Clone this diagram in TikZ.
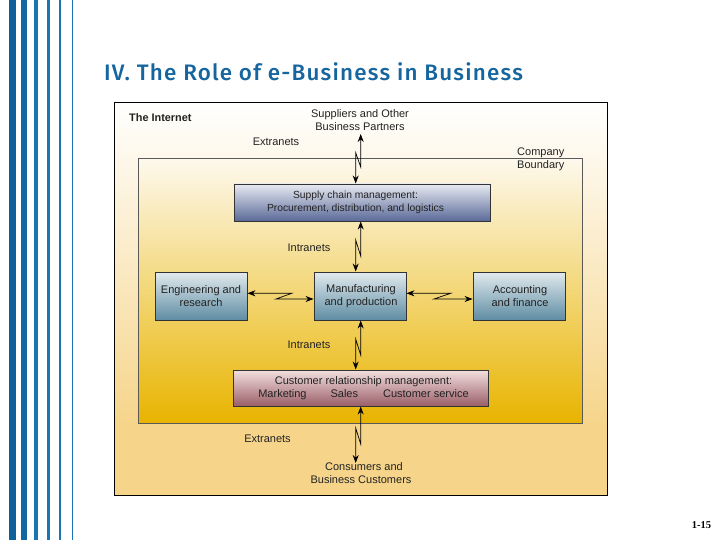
\documentclass[tikz,border=0pt]{standalone}
\usepackage{fontspec}
\usetikzlibrary{arrows.meta}
\setmainfont{Liberation Sans}
\newfontfamily\titlefont[LetterSpace=5.4]{Fira Sans Medium}
\newfontfamily\pagefont{Liberation Serif}
\definecolor{titleblue}{HTML}{15659F}
\definecolor{stripeA}{HTML}{0F5F9A}
\definecolor{stripeB}{HTML}{1A76B3}
\definecolor{inktext}{HTML}{222222}
\definecolor{sandbottom}{HTML}{F6D58B}
\definecolor{goldbottom}{HTML}{E8B400}
\definecolor{bluetop}{HTML}{E2EBEE}
\definecolor{boxblue}{HTML}{5F8CA3}
\definecolor{supplytop}{HTML}{E8EAF2}
\definecolor{supplybot}{HTML}{5A6A98}
\definecolor{crmtop}{HTML}{F3E0DF}
\definecolor{crmbot}{HTML}{9A5F68}
\tikzset{
  x=1pt,y=-1pt,
  stripe/.style={fill=stripeB,draw=none},
  lab/.style={font=\fontsize{11}{13}\selectfont,text=inktext,inner sep=0pt,align=center},
  boxbase/.style={draw=black!80,line width=0.9pt,font=\fontsize{11}{13}\selectfont,text=inktext,align=center,inner sep=0pt},
  bluebox/.style={boxbase,top color=bluetop,bottom color=boxblue,minimum width=92pt,minimum height=48pt},
  supplybox/.style={boxbase,font=\fontsize{10.3}{13}\selectfont,top color=supplytop,bottom color=supplybot,minimum width=256pt,minimum height=37pt},
  crmbox/.style={boxbase,top color=crmtop,bottom color=crmbot,minimum width=255pt,minimum height=36pt},
  bolt/.style={draw=black,line width=0.7pt,{Stealth[length=8pt,width=6pt]}-{Stealth[length=8pt,width=6pt]}},
}
\begin{document}
\begin{tikzpicture}
\useasboundingbox (0,0) rectangle (720,540);
\fill[white] (0,0) rectangle (720,540);
% stripes
\fill[stripeA] (9,0) rectangle (16,540);
\fill[stripeA!70!stripeB] (21,0) rectangle (27,540);
\fill[stripe] (34,0) rectangle (38,540);
\fill[stripe] (47,0) rectangle (50,540);
\fill[stripe] (59,0) rectangle (61,540);
\fill[stripe] (72,0) rectangle (73,540);
% title
\node[anchor=west,inner sep=0pt,text=titleblue,font=\titlefont\fontsize{22.4}{26}\selectfont] (title) at (104,71.5) {IV. The Role of e-Business in Business};
% panels
\shade[top color=white,bottom color=sandbottom] (114,102) rectangle (607,423);
\fill[sandbottom] (114,423) rectangle (607,495);
\shade[top color=white!85!sandbottom,bottom color=goldbottom] (138,158) rectangle (582,423);
\draw[black!65,line width=0.6pt] (138,158) rectangle (582,423);
\draw[black,line width=0.9pt] (114,102) rectangle (607,495);
% boxes
\node[supplybox] (supply) at (362,202.5) {Supply chain management:\hspace*{13pt}\\Procurement, distribution, and logistics\hspace*{13pt}};
\node[bluebox] (eng) at (201,296) {Engineering and\\research};
\node[bluebox] (manu) at (360,296) {\hspace*{2pt}Manufacturing\\\hspace*{2pt}and production};
\node[bluebox] (acct) at (519,296) {\hspace*{2pt}Accounting\\\hspace*{2pt}and finance};
\node[crmbox] (crm) at (360.5,388) {\hspace*{6pt}Customer relationship management:\\\hspace*{6pt}Marketing\hspace{24pt}Sales\hspace{25pt}Customer service};
% labels
\node[lab,font=\bfseries\fontsize{10.9}{13}\selectfont,anchor=west] (inet) at (129,118) {The Internet};
\node[lab] (sup) at (360,120) {Suppliers and Other\\Business Partners};
\node[lab] (ext1) at (276,142) {Extranets};
\node[lab,align=left,anchor=west] (bound) at (517,159) {Company\\Boundary};
\node[lab] (int1) at (309,248) {Intranets};
\node[lab] (int2) at (309,345) {Intranets};
\node[lab] (ext2) at (267.5,439) {Extranets};
\node[lab] (cons) at (361,473.5) {\hspace*{6pt}Consumers and\\Business Customers};
\node[anchor=center,inner sep=0pt,font=\pagefont\bfseries\fontsize{10.5}{12}\selectfont] (pg) at (701.5,525.5) {1-15};
% connectors
\coordinate (supT) at (360.7,134);
\coordinate (cusB) at (355.7,463);
\draw[bolt] (supT) -- (360.7,167) -- (355.7,152.7) -- (355.7,183.5);
\draw[bolt] (360.7,221.5) -- (360.7,256) -- (355.7,240) -- (355.7,271.5);
\draw[bolt] (360.7,320.5) -- (360.7,355) -- (355.7,339) -- (355.7,369.5);
\draw[bolt] (360.7,406.5) -- (360.7,444) -- (355.7,428) -- (cusB);
\draw[bolt] (eng.east |- 0,293.3) -- (291.7,293.3) -- (276,299) -- (manu.west |- 0,299);
\draw[bolt] (manu.east |- 0,293.3) -- (450.7,293.3) -- (434,299) -- (acct.west |- 0,299);
\end{tikzpicture}
\end{document}
